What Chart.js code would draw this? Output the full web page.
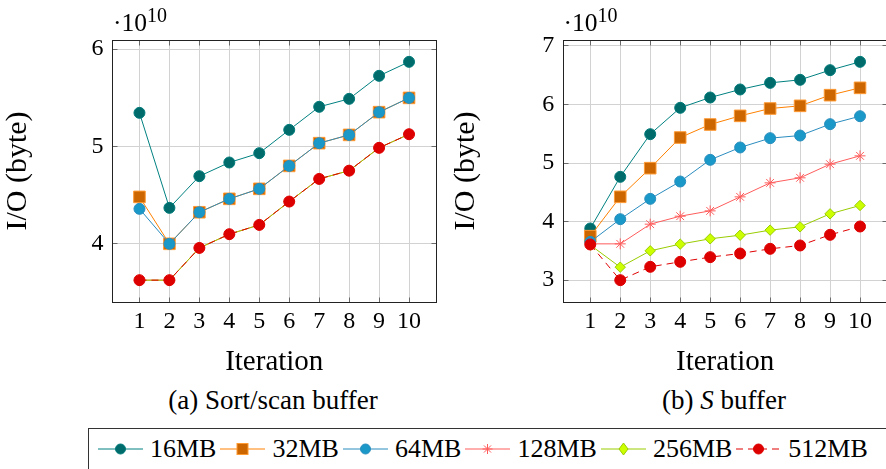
<!DOCTYPE html>
<html><head><meta charset="utf-8">
<script src="https://cdn.jsdelivr.net/npm/chart.js@4.4.1/dist/chart.umd.min.js"></script>
<style>
html,body{margin:0;padding:0;width:886px;height:469px;overflow:hidden;background:#fff;font-family:"Liberation Serif",serif;color:#000}
.wrap{position:absolute;top:0;width:440px;height:380px}
canvas{display:block}
.mult{position:absolute;top:10px;font-family:"Liberation Serif",serif;font-size:25.5px;line-height:1;white-space:nowrap}
.mult .sup{font-size:20px;position:relative;top:-9px}
.cap{position:absolute;top:387px;font-size:27px;line-height:1;white-space:nowrap;transform:translateX(-50%)}
#legendBox{position:absolute;left:88px;top:428px;width:830px;height:60px;border:1px solid #333;box-sizing:border-box}
#legendRow{position:absolute;left:98px;top:437px;height:24px;display:flex;align-items:center;white-space:nowrap}
#legendRow .txt{font-size:26px;line-height:1;margin-left:7px;margin-right:4px}
#legendRow svg{display:block}
</style>
</head><body>
<div class="wrap" style="left:0"><canvas id="c1" width="440" height="380"></canvas></div>
<div class="wrap" style="left:448px"><canvas id="c2" width="440" height="380"></canvas></div>
<div class="mult" style="left:113px">·10<span class="sup">10</span></div>
<div class="mult" style="left:563.5px">·10<span class="sup">10</span></div>
<div class="cap" style="left:273px">(a) Sort/scan buffer</div>
<div class="cap" style="left:724px">(b) <i>S</i> buffer</div>
<div id="legendBox"></div>
<div id="legendRow"></div>
<script>
// ---- data (I/O in units of 10^10 bytes) ----
const iterations = [1,2,3,4,5,6,7,8,9,10];
const seriesNames = ['16MB','32MB','64MB','128MB','256MB','512MB'];
const leftYTicks = [4,5,6];
const rightYTicks = [3,4,5,6,7];

const sortScan16  = [5.345,4.367,4.693,4.834,4.930,5.170,5.407,5.489,5.726,5.870];
const sortScan32  = [4.480,3.997,4.322,4.460,4.563,4.799,5.033,5.118,5.352,5.499];
const sortScan64  = [4.357,3.997,4.322,4.460,4.563,4.799,5.033,5.118,5.352,5.499];
const sortScan128 = [3.623,3.623,3.955,4.096,4.192,4.432,4.665,4.750,4.985,5.125];
const sortScan256 = [3.623,3.623,3.955,4.096,4.192,4.432,4.665,4.750,4.985,5.125];
const sortScan512 = [3.623,3.623,3.955,4.096,4.192,4.432,4.665,4.750,4.985,5.125];

const sBuf16  = [3.882,4.764,5.492,5.942,6.118,6.255,6.368,6.420,6.585,6.727];
const sBuf32  = [3.751,4.423,4.912,5.435,5.657,5.805,5.930,5.976,6.158,6.283];
const sBuf64  = [3.654,4.041,4.388,4.684,5.054,5.265,5.424,5.469,5.663,5.799];
const sBuf128 = [3.620,3.620,3.956,4.092,4.183,4.422,4.661,4.747,4.980,5.122];
const sBuf256 = [3.600,3.222,3.501,3.615,3.706,3.768,3.854,3.910,4.132,4.275];
const sBuf512 = [3.609,3.000,3.228,3.313,3.393,3.455,3.535,3.592,3.774,3.916];

// ---- styles ----
const styles = [
  {line:'#008080', fill:'#006b6b', edge:'#007a7a', shape:'circle', r:5.5, dash:[]},
  {line:'#ff8000', fill:'#cc6600', edge:'#ff9a33', shape:'rect',   r:8.2, dash:[]},
  {line:'#2a8cbf', fill:'#1a98c8', edge:'#2a8fbf', shape:'circle', r:5.5, dash:[]},
  {line:'#ff5c5c', fill:'#ff5c5c', edge:'#ff5c5c', shape:'star',   r:5.5, dash:[]},
  {line:'#99cc00', fill:'#ccff00', edge:'#99cc00', shape:'rectRot',r:5.2, dash:[]},
  {line:'#e00000', fill:'#dd0000', edge:'#e00000', shape:'circle', r:5.5, dash:[7,5]}
];

const FONT = '"Liberation Serif", serif';

const framePlugin = {
  id:'frame',
  beforeDatasetsDraw(chart){
    const {ctx, chartArea:a, scales:{x,y}} = chart;
    const al = p => Math.round(p-0.5)+0.5;
    const L=al(a.left), R=al(a.right), T=al(a.top), B=al(a.bottom);
    ctx.save();
    ctx.lineWidth=1;
    ctx.strokeStyle='#6a6a6a';
    ctx.beginPath();
    x.ticks.forEach(t=>{const p=al(x.getPixelForValue(t.value)); ctx.moveTo(p,B); ctx.lineTo(p,B-5); ctx.moveTo(p,T); ctx.lineTo(p,T+5);});
    y.ticks.forEach(t=>{const p=al(y.getPixelForValue(t.value)); ctx.moveTo(L,p); ctx.lineTo(L+5,p); ctx.moveTo(R,p); ctx.lineTo(R-5,p);});
    ctx.stroke();
    ctx.strokeStyle='#222';
    ctx.strokeRect(L,T,R-L,B-T);
    ctx.restore();
  }
};

function makeChart(id, seriesData, yTicks, yWidth, padRight){
  const all = seriesData.flat();
  const mn = Math.min(...all), mx = Math.max(...all), rg = mx-mn;
  const xr = iterations[iterations.length-1]-iterations[0];
  const datasets = seriesData.map((vals,i)=>({
    label: seriesNames[i],
    data: vals.map((v,k)=>({x:iterations[k], y:v})),
    borderColor: styles[i].line,
    backgroundColor: styles[i].fill,
    borderWidth: 1,
    borderDash: styles[i].dash,
    pointStyle: styles[i].shape,
    pointRadius: styles[i].r,
    pointBackgroundColor: styles[i].fill,
    pointBorderColor: styles[i].edge,
    pointBorderWidth: 1,
    tension: 0,
    order: seriesData.length - i
  }));
  return new Chart(document.getElementById(id), {
    type:'line',
    data:{datasets},
    plugins:[framePlugin],
    options:{
      responsive:false, animation:false,
      layout:{autoPadding:false, padding:{top:40,right:padRight,left:0,bottom:0}},
      plugins:{legend:{display:false}, tooltip:{enabled:false}},
      scales:{
        x:{
          type:'linear',
          min: iterations[0]-0.1*xr, max: iterations[iterations.length-1]+0.1*xr,
          afterBuildTicks: s => { s.ticks = iterations.map(v=>({value:v})); },
          afterFit: s => { s.height = 78; },
          ticks:{font:{family:FONT,size:24}, color:'#000', padding:5, autoSkip:false, maxRotation:0},
          grid:{color:'#d2d2d2', drawTicks:false},
          border:{display:false},
          title:{display:true, text:'Iteration', color:'#000', font:{family:FONT,size:29}, padding:{top:0,bottom:0.5}}
        },
        y:{
          type:'linear',
          min: mn-0.1*rg, max: mx+0.1*rg,
          afterBuildTicks: s => { s.ticks = yTicks.map(v=>({value:v})); },
          afterFit: s => { s.width = yWidth; },
          ticks:{font:{family:FONT,size:24}, color:'#000', padding:9, callback:v=>String(v)},
          grid:{color:'#d2d2d2', drawTicks:false},
          border:{display:false},
          title:{display:true, text:'I/O (byte)', color:'#000', font:{family:FONT,size:30}, padding:{top:0,bottom:0}}
        }
      }
    }
  });
}

makeChart('c1', [sortScan16,sortScan32,sortScan64,sortScan128,sortScan256,sortScan512], leftYTicks, 112.5, 4);
makeChart('c2', [sBuf16,sBuf32,sBuf64,sBuf128,sBuf256,sBuf512], rightYTicks, 115.3, 1);

// ---- legend ----
function markerSvg(s){
  const cx=22.5, cy=12;
  let m='';
  if(s.shape==='circle') m=`<circle cx="${cx}" cy="${cy}" r="5" fill="${s.fill}" stroke="${s.edge}" stroke-width="1"/>`;
  else if(s.shape==='rect') m=`<rect x="${cx-5.5}" y="${cy-5.5}" width="11" height="11" fill="${s.fill}" stroke="${s.edge}" stroke-width="1"/>`;
  else if(s.shape==='rectRot') m=`<polygon points="${cx},${cy-6} ${cx+4.5},${cy} ${cx},${cy+6} ${cx-4.5},${cy}" fill="${s.fill}" stroke="${s.edge}" stroke-width="1"/>`;
  else if(s.shape==='star'){ let d=''; for(let k=0;k<4;k++){const a=k*Math.PI/4; const dx=5*Math.sin(a), dy=5*Math.cos(a); d+=`M${cx-dx} ${cy-dy}L${cx+dx} ${cy+dy}`;} m=`<path d="${d}" stroke="${s.edge}" stroke-width="1" fill="none"/>`; }
  const dash = s.dash.length ? `stroke-dasharray="${s.dash.join(' ')}"` : '';
  return `<svg width="45" height="24"><line x1="0" y1="${cy}" x2="45" y2="${cy}" stroke="${s.line}" stroke-width="1" ${dash}/>${m}</svg>`;
}
document.getElementById('legendRow').innerHTML = seriesNames.map((n,i)=>markerSvg(styles[i])+`<span class="txt">${n}</span>`).join('');
</script>
</body></html>
